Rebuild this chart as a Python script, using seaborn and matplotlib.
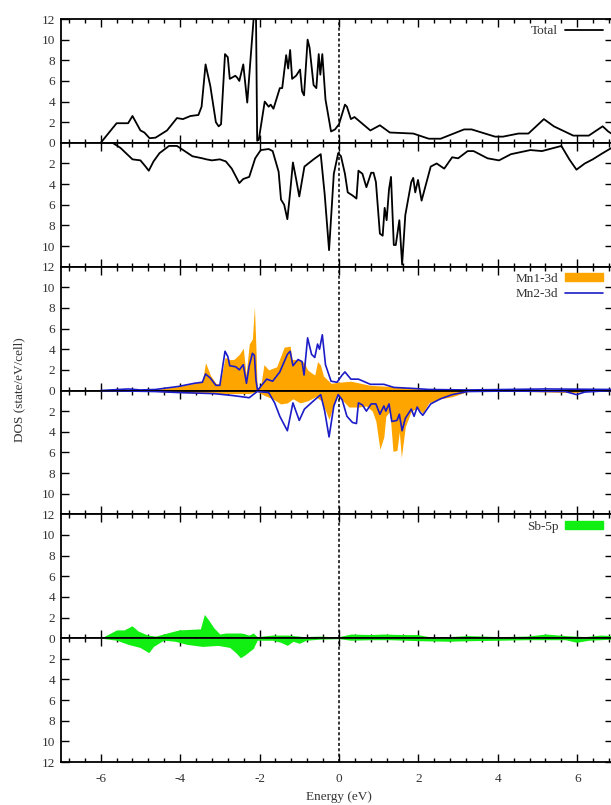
import numpy as np
import pandas as pd
import matplotlib
matplotlib.use("Agg")
import matplotlib.pyplot as plt
from matplotlib.ticker import MultipleLocator, FixedLocator
from matplotlib.lines import Line2D
from matplotlib.patches import Patch
import seaborn as sns

# ---- data (energy in eV, DOS in state/eV/cell) ----
total_up_e = [-6.0, -5.6, -5.31, -5.2, -5.0, -4.9, -4.77, -4.62, -4.33, -4.08, -3.93, -3.74, -3.54, -3.46,
              -3.36, -3.24, -3.10, -3.03, -2.97, -2.87, -2.80, -2.75, -2.61, -2.56, -2.51, -2.41, -2.31,
              -2.23, -2.14, -2.09, -2.06, -2.02, -1.87, -1.77, -1.72, -1.65, -1.49, -1.43, -1.33, -1.28,
              -1.23, -1.18, -1.08, -0.98, -0.93, -0.88, -0.79, -0.74, -0.64, -0.57, -0.51, -0.47, -0.42,
              -0.34, -0.20, -0.10, 0.0, 0.15, 0.20, 0.30, 0.39, 0.79, 1.03, 1.28, 1.87, 2.26, 2.56, 3.15,
              3.34, 3.93, 4.13, 4.52, 4.77, 5.16, 5.41, 5.90, 6.29, 6.64, 6.78, 6.86]
total_up = [0.0, 1.9, 1.9, 2.6, 1.2, 1.0, 0.45, 0.5, 1.2, 2.4, 2.3, 2.6, 2.7, 3.5, 7.6, 5.5, 2.0, 1.6, 1.8,
            8.6, 8.3, 6.2, 6.5, 6.3, 6.0, 7.6, 3.9, 8.0, 12.5, 12.5, 0.2, 0.3, 4.0, 3.5, 3.7, 3.3, 5.3, 5.3,
            8.5, 7.2, 9.0, 6.2, 6.5, 7.1, 5.0, 4.6, 10.0, 9.2, 5.6, 5.3, 8.6, 6.6, 8.6, 4.2, 1.1, 1.3, 1.8,
            3.7, 3.5, 2.3, 2.5, 1.2, 1.7, 1.0, 0.9, 0.4, 0.4, 1.3, 1.3, 0.6, 0.6, 0.9, 0.9, 2.3, 1.6, 0.7,
            0.7, 1.6, 1.1, 0.9]

total_dn_e = [-6.0, -5.7, -5.5, -5.2, -5.0, -4.87, -4.79, -4.67, -4.52, -4.28, -4.08, -3.69, -3.44, -3.34,
              -3.2, -3.0, -2.85, -2.7, -2.51, -2.41, -2.26, -2.11, -1.97, -1.77, -1.67, -1.52, -1.46, -1.38,
              -1.3, -1.23, -1.16, -1.08, -1.0, -0.87, -0.64, -0.46, -0.36, -0.25, -0.13, -0.02, 0.05, 0.15,
              0.22, 0.34, 0.44, 0.49, 0.59, 0.69, 0.81, 0.87, 0.93, 1.03, 1.10, 1.15, 1.20, 1.26, 1.31, 1.38,
              1.43, 1.52, 1.59, 1.67, 1.82, 1.87, 1.92, 1.99, 2.08, 2.31, 2.46, 2.65, 2.85, 3.0, 3.24, 3.39,
              3.74, 4.03, 4.33, 4.82, 5.11, 5.6, 5.8, 5.98, 6.19, 6.39, 6.64, 6.86]
total_dn = [0.0, 0.0, 0.5, 1.6, 1.7, 2.3, 2.7, 1.8, 1.0, 0.3, 0.3, 1.3, 1.5, 1.6, 1.7, 1.6, 1.8, 2.5, 3.9,
            3.5, 3.3, 1.5, 0.7, 0.6, 0.8, 2.8, 5.5, 6.0, 7.4, 4.8, 1.9, 3.5, 5.2, 2.3, 1.6, 1.1, 5.0, 10.4,
            3.0, 1.0, 1.3, 3.0, 4.8, 5.1, 5.4, 2.7, 3.0, 4.3, 2.9, 2.9, 3.8, 8.8, 9.0, 6.3, 7.5, 4.5, 3.3,
            9.9, 9.9, 7.5, 11.8, 7.0, 3.8, 3.4, 4.8, 3.6, 5.6, 2.3, 2.0, 2.5, 1.4, 1.5, 0.8, 0.8, 1.5, 1.7,
            1.1, 0.7, 0.8, 0.3, 1.6, 2.6, 2.0, 1.6, 1.0, 0.5]

mn1_up_e = [-6.0, -5.6, -4.62, -4.03, -3.64, -3.44, -3.36, -3.24, -3.1, -3.0, -2.87, -2.75, -2.65, -2.51,
            -2.41, -2.34, -2.26, -2.18, -2.13, -2.09, -2.06, -1.97, -1.89, -1.77, -1.57, -1.38, -1.23, -1.18,
            -0.98, -0.88, -0.79, -0.69, -0.61, -0.54, -0.47, -0.39, -0.2, 0.0, 0.3, 0.79, 1.28, 1.87, 2.26,
            3.24, 4.22, 5.21, 6.86]
mn1_up = [0.0, 0.05, 0.1, 0.4, 0.7, 0.9, 2.7, 1.5, 0.7, 0.6, 3.2, 3.0, 3.0, 3.5, 4.1, 1.5, 4.5, 5.0, 8.1,
          4.0, 0.1, 0.5, 2.5, 2.0, 2.3, 4.2, 4.3, 3.0, 3.0, 2.7, 2.0, 1.7, 1.5, 2.8, 2.5, 1.4, 0.7, 0.8, 0.9,
          0.5, 0.4, 0.2, 0.1, 0.05, 0.1, 0.1, 0.1]

mn2_up_e = [-6.0, -5.3, -5.0, -4.62, -4.03, -3.64, -3.44, -3.36, -3.24, -3.1, -3.0, -2.87, -2.8, -2.75,
            -2.6, -2.51, -2.41, -2.33, -2.26, -2.18, -2.13, -2.09, -2.05, -1.95, -1.82, -1.67, -1.49, -1.3,
            -1.23, -1.16, -1.03, -0.93, -0.88, -0.79, -0.69, -0.61, -0.54, -0.49, -0.42, -0.34, -0.2, -0.05,
            0.08, 0.15, 0.3, 0.49, 0.79, 1.13, 1.38, 1.87, 2.26, 3.24, 5.21, 6.86]
mn2_up = [0.0, 0.15, 0.05, 0.1, 0.4, 0.7, 0.8, 1.6, 1.2, 0.5, 0.5, 3.8, 3.3, 2.4, 2.3, 2.0, 2.5, 0.7, 2.4,
          3.6, 3.4, 1.0, 0.0, 0.5, 1.1, 0.9, 1.8, 3.5, 3.8, 2.4, 3.0, 2.8, 1.5, 5.1, 3.5, 3.2, 4.5, 4.0, 5.4,
          2.5, 0.9, 0.8, 1.5, 1.8, 1.1, 1.1, 0.6, 0.6, 0.3, 0.2, 0.1, 0.05, 0.15, 0.1]

mn1_dn_e = [-6.0, -4.62, -4.03, -3.15, -2.26, -2.06, -1.87, -1.67, -1.47, -1.3, -1.23, -1.16, -0.98, -0.79,
            -0.59, -0.44, -0.25, -0.12, -0.02, 0.1, 0.25, 0.49, 0.69, 0.84, 0.93, 1.03, 1.13, 1.18, 1.28, 1.36,
            1.46, 1.52, 1.57, 1.67, 1.82, 1.97, 2.11, 2.26, 2.56, 2.85, 3.24, 4.22, 5.9, 6.19, 6.86]
mn1_dn = [0.0, 0.1, 0.2, 0.3, 0.3, 0.1, 0.5, 0.8, 1.3, 1.2, 1.0, 0.8, 1.2, 1.0, 0.6, 1.0, 2.8, 1.2, 0.4,
          1.0, 1.6, 1.6, 1.5, 2.0, 3.0, 5.7, 4.5, 2.5, 2.0, 5.9, 5.8, 4.0, 6.5, 3.5, 2.0, 1.7, 2.2, 1.2, 0.8,
          0.6, 0.1, 0.05, 0.2, 0.1, 0.0]

mn2_dn_e = [-6.0, -4.62, -4.03, -3.15, -2.65, -2.26, -2.06, -1.77, -1.62, -1.49, -1.3, -1.16, -1.0, -0.87,
            -0.64, -0.46, -0.36, -0.25, -0.13, -0.02, 0.08, 0.2, 0.34, 0.44, 0.49, 0.59, 0.69, 0.81, 0.93,
            1.03, 1.13, 1.18, 1.26, 1.33, 1.46, 1.52, 1.59, 1.67, 1.82, 1.89, 1.97, 2.04, 2.11, 2.31, 2.56,
            2.85, 3.24, 4.22, 5.7, 5.98, 6.19, 6.86]
mn2_dn = [0.0, 0.1, 0.2, 0.3, 0.5, 0.7, 0.1, 0.2, 1.2, 2.5, 3.9, 1.2, 2.9, 1.8, 1.0, 0.4, 2.0, 4.5, 1.5,
          0.4, 0.9, 2.5, 3.1, 3.2, 1.2, 1.4, 2.0, 1.3, 1.3, 2.3, 1.5, 2.0, 1.3, 3.0, 2.9, 2.3, 3.9, 2.7, 1.8,
          2.5, 1.6, 2.1, 2.4, 1.3, 0.8, 0.4, 0.1, 0.05, 0.1, 0.4, 0.15, 0.0]

sb_up_e = [-6.0, -5.6, -5.41, -5.21, -5.06, -4.82, -4.62, -4.33, -4.03, -3.49, -3.39, -3.29, -3.15, -3.0,
           -2.85, -2.46, -2.26, -2.16, -2.06, -1.67, -1.28, -0.88, -0.49, -0.2, 0.0, 0.3, 0.79, 1.13, 1.57,
           1.97, 2.26, 2.75, 3.24, 4.03, 4.72, 5.21, 5.7, 6.19, 6.59, 6.86]
sb_up = [0.0, 0.8, 0.8, 1.2, 0.7, 0.3, 0.2, 0.5, 0.8, 0.9, 2.3, 1.8, 1.0, 0.4, 0.5, 0.5, 0.3, 0.5, 0.15,
         0.3, 0.3, 0.15, 0.2, 0.15, 0.15, 0.4, 0.35, 0.4, 0.35, 0.35, 0.15, 0.15, 0.25, 0.15, 0.2, 0.4, 0.25,
         0.15, 0.3, 0.25]

sb_dn_e = [-6.0, -5.6, -5.31, -5.01, -4.79, -4.67, -4.42, -4.13, -3.83, -3.44, -3.05, -2.75, -2.6, -2.48,
           -2.36, -2.16, -2.06, -1.67, -1.47, -1.3, -1.16, -1.0, -0.83, -0.49, 0.0, 0.3, 0.79, 1.28, 2.06,
           2.75, 3.24, 4.03, 4.72, 5.7, 5.98, 6.29, 6.86]
sb_dn = [0.0, 0.2, 0.6, 0.9, 1.4, 0.8, 0.2, 0.3, 0.6, 0.8, 0.7, 0.9, 1.4, 1.9, 1.6, 1.0, 0.2, 0.2, 0.4,
         0.7, 0.3, 0.5, 0.2, 0.1, 0.05, 0.2, 0.15, 0.15, 0.25, 0.3, 0.25, 0.2, 0.15, 0.15, 0.4, 0.2, 0.1]

x_ticks = [-6, -4, -2, 0, 2, 4, 6]

ORANGE = "#ffa500"
BLUE = "#1c1cc8"
GREEN = "#11ee11"
TXT = "#333333"


def frame(e, v):
    return pd.DataFrame({"E": e, "DOS": v})


sns.set_style("ticks")
plt.rcParams["font.family"] = ["Liberation Serif", "DejaVu Serif"]
plt.rcParams["font.size"] = 9
plt.rcParams["axes.unicode_minus"] = False
plt.rcParams["text.color"] = TXT
plt.rcParams["xtick.color"] = "black"
plt.rcParams["ytick.color"] = "black"
plt.rcParams["xtick.labelcolor"] = TXT
plt.rcParams["ytick.labelcolor"] = TXT

W, H = 611, 805
fig, axes = plt.subplots(6, 1, figsize=(W / 100, H / 100), dpi=100, sharex=True)
fig.subplots_adjust(left=61 / W, right=613 / W, top=1 - 19 / H, bottom=1 - 762 / H, hspace=0)

for i, ax in enumerate(axes):
    up = i % 2 == 0
    ax.set_xlim(-7, 6.9)
    if up:
        ax.set_ylim(0, 12)
        ax.yaxis.set_major_locator(FixedLocator([0, 2, 4, 6, 8, 10, 12] if i == 0 else [0, 2, 4, 6, 8, 10]))
    else:
        ax.set_ylim(12, 0)
        ax.yaxis.set_major_locator(FixedLocator([2, 4, 6, 8, 10, 12]))
    ax.xaxis.set_major_locator(FixedLocator(x_ticks))
    ax.xaxis.set_minor_locator(MultipleLocator(0.4))
    ax.tick_params(which="both", direction="in", top=True, right=True, width=1.0, labelsize=9.5, pad=4)
    ax.tick_params(axis="x", pad=8)
    ax.tick_params(which="major", length=6)
    ax.tick_params(which="minor", length=3)
    ax.tick_params(axis="y", which="minor", left=False, right=False)
    for s in ax.spines.values():
        s.set_linewidth(1.3)
        s.set_color("black")
    ax.axvline(0, color="black", lw=1.1, ls=(0, (2, 1.5)), zorder=1)
    if i < 5:
        ax.tick_params(labelbottom=False)

# Total
sns.lineplot(data=frame(total_up_e, total_up), x="E", y="DOS", ax=axes[0], color="black", lw=1.3,
             sort=False, estimator=None)
sns.lineplot(data=frame(total_dn_e, total_dn), x="E", y="DOS", ax=axes[1], color="black", lw=1.3,
             sort=False, estimator=None)

# Mn 3d
axes[2].fill_between(mn1_up_e, 0, mn1_up, color=ORANGE, lw=0, zorder=2)
axes[3].fill_between(mn1_dn_e, 0, mn1_dn, color=ORANGE, lw=0, zorder=2)
sns.lineplot(data=frame(mn2_up_e, mn2_up), x="E", y="DOS", ax=axes[2], color=BLUE, lw=1.2,
             sort=False, estimator=None, zorder=3)
sns.lineplot(data=frame(mn2_dn_e, mn2_dn), x="E", y="DOS", ax=axes[3], color=BLUE, lw=1.2,
             sort=False, estimator=None, zorder=3)

# Sb 5p
axes[4].fill_between(sb_up_e, 0, sb_up, color=GREEN, lw=0, zorder=2)
axes[5].fill_between(sb_dn_e, 0, sb_dn, color=GREEN, lw=0, zorder=2)

for ax in axes:
    ax.set_xlabel("")
    ax.set_ylabel("")

leg_kw = dict(loc="upper right", frameon=False, markerfirst=False, handlelength=2.9, handletextpad=0.5,
              borderpad=0, borderaxespad=0, labelspacing=0.25, fontsize=9.5, handleheight=0.6)
axes[0].legend(handles=[Line2D([], [], color="black", lw=1.3, label="Total")],
               bbox_to_anchor=(0.982, 0.95), **leg_kw)
axes[2].legend(handles=[Patch(color=ORANGE, label="Mn1-3d"), Line2D([], [], color=BLUE, lw=1.2, label="Mn2-3d")],
               bbox_to_anchor=(0.982, 0.95), **leg_kw)
axes[4].legend(handles=[Patch(color=GREEN, label="Sb-5p")],
               bbox_to_anchor=(0.982, 0.95), **leg_kw)

fig.text(339 / W, 1 - 797 / H, "Energy (eV)", ha="center", va="center", fontsize=9.5)
fig.text(19 / W, 1 - 390 / H, "DOS (state/eV/cell)", rotation=90, ha="center", va="center", fontsize=9.5)

fig.savefig("out.png", dpi=100)
